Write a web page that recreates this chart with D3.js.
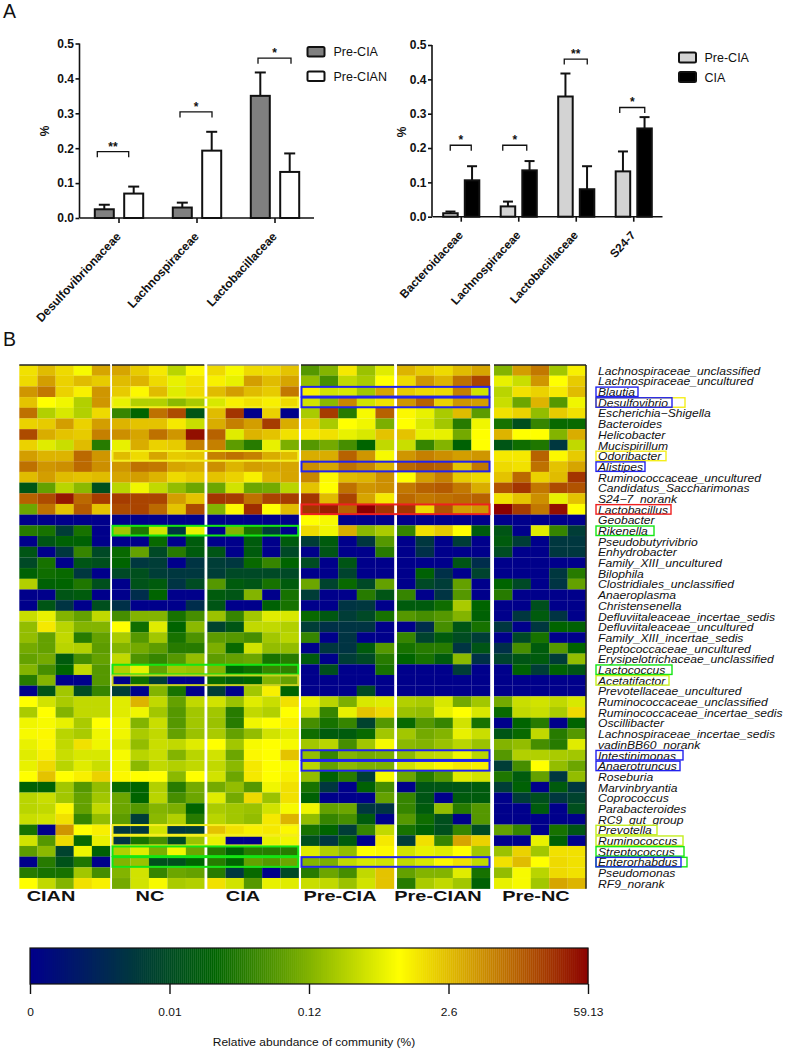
<!DOCTYPE html>
<html><head><meta charset="utf-8">
<style>html,body{margin:0;padding:0;background:#fff}svg{display:block}text{font-family:"Liberation Sans",Arial,sans-serif;fill:#111}</style>
<script src="https://cdn.jsdelivr.net/npm/d3@7"></script></head><body>
<svg id="c" width="787" height="1050"></svg>
<script>
// ---------- Panel A data ----------
const leftFamilies = ["Desulfovibrionaceae","Lachnospiraceae","Lactobacillaceae"];
const leftPreCIA = [0.025,0.03,0.35];
const leftPreCIAErr = [0.038,0.044,0.417];
const leftPreCIAN = [0.07,0.193,0.132];
const leftPreCIANErr = [0.09,0.247,0.185];
const leftSig = ["**","*","*"];
const leftSigLevel = [0.19,0.304,0.458];

const rightFamilies = ["Bacteroidaceae","Lachnospiraceae","Lactobacillaceae","S24-7"];
const rightPreCIA = [0.01,0.03,0.35,0.132];
const rightPreCIAErr = [0.015,0.044,0.417,0.19];
const rightCIA = [0.106,0.135,0.08,0.257];
const rightCIAErr = [0.147,0.162,0.147,0.29];
const rightSig = ["*","*","**","*"];
const rightSigLevel = [0.208,0.208,0.459,0.318];
const yTicks = [0,0.1,0.2,0.3,0.4,0.5];

// ---------- Panel B data ----------
const taxa = ["Lachnospiraceae_unclassified","Lachnospiraceae_uncultured","Blautia","Desulfovibrio","Escherichia−Shigella","Bacteroides","Helicobacter","Mucispirillum","Odoribacter","Alistipes","Ruminococcaceae_uncultured","Candidatus_Saccharimonas","S24−7_norank","Lactobacillus","Geobacter","Rikenella","Pseudobutyrivibrio","Enhydrobacter","Family_XIII_uncultured","Bilophila","Clostridiales_unclassified","Anaeroplasma","Christensenella","Defluviitaleaceae_incertae_sedis","Defluviitaleaceae_uncultured","Family_XIII_incertae_sedis","Peptococcaceae_uncultured","Erysipelotrichaceae_unclassified","Lactococcus","Acetatifactor","Prevotellaceae_uncultured","Ruminococcaceae_unclassified","Ruminococcaceae_incertae_sedis","Oscillibacter","Lachnospiraceae_incertae_sedis","vadinBB60_norank","Intestinimonas","Anaerotruncus","Roseburia","Marvinbryantia","Coprococcus","Parabacteroides","RC9_gut_group","Prevotella","Ruminococcus","Streptococcus","Enterorhabdus","Pseudomonas","RF9_norank"];
const groupNames = ["CIAN","NC","CIA","Pre-CIA","Pre-CIAN","Pre-NC"];
// colour-bar position (0-100) of every cell, rows follow taxa
const cian = [[70,75,71,65,78],[71,79,72,75,73],[80,84,72,68,80],[74,66,64,56,80],[85,56,61,56,71],[72,73,79,72,79],[90,77,74,73,83],[72,62,59,75,38],[79,76,76,86,80],[85,80,81,86,81],[75,79,75,74,75],[28,46,57,51,26],[87,90,97,86,92],[47,85,74,88,74],[0,0,0,0,0],[38,36,20,36,0],[0,28,32,32,0],[28,0,18,40,24],[24,36,0,28,26],[32,35,34,18,0],[56,32,33,37,26],[0,0,28,30,0],[0,28,17,0,26],[59,63,50,46,58],[52,69,57,50,50],[52,46,58,38,46],[48,46,57,56,45],[46,48,30,42,46],[50,42,33,58,44],[38,50,0,0,44],[0,28,54,25,40],[66,60,55,58,58],[55,66,50,58,58],[64,65,63,55,66],[65,67,57,55,64],[63,67,58,70,64],[62,68,59,61,61],[63,71,57,62,59],[66,74,66,68,72],[32,32,54,44,52],[57,59,54,46,54],[57,58,67,46,58],[59,60,70,40,52],[36,0,80,66,68],[60,44,71,34,63],[45,51,22,64,32],[0,38,27,37,0],[38,36,36,54,42],[66,58,50,70,68]];
const nc = [[78,73,69,57,67],[75,76,71,63,70],[73,67,75,62,71],[63,56,56,51,55],[40,33,85,90,28],[76,74,74,69,59],[81,78,85,80,98],[63,77,72,73,83],[75,71,78,73,74],[80,85,84,78,77],[78,79,76,71,73],[57,64,58,52,47],[92,91,91,79,74],[90,91,86,74,90],[0,0,0,0,0],[54,37,60,18,63],[0,0,34,0,30],[34,46,24,38,30],[33,18,20,0,17],[24,26,20,18,18],[0,27,30,17,25],[0,15,33,0,0],[16,0,0,0,15],[42,50,50,36,42],[66,35,62,33,51],[55,44,54,36,43],[50,48,45,38,38],[58,43,40,44,52],[56,63,46,54,53],[0,35,20,0,0],[20,0,50,36,0],[62,76,58,46,58],[62,64,54,44,54],[64,50,59,44,54],[64,55,58,46,53],[62,52,59,58,62],[65,57,59,50,57],[64,51,58,56,58],[67,66,66,51,66],[34,33,56,38,48],[47,33,57,42,47],[47,44,50,49,33],[45,20,51,56,38],[18,18,60,18,20],[17,36,42,25,53],[56,62,49,64,47],[50,53,26,26,33],[50,60,40,47,46],[48,60,65,55,56]];
const cia = [[71,65,71,71,74],[68,63,79,75,78],[75,79,75,73,84],[61,68,70,68,71],[75,93,0,72,0],[77,83,79,92,77],[87,62,76,74,70],[83,45,38,63,49],[83,85,83,77,75],[81,76,79,78,78],[74,72,68,76,78],[47,60,47,48,57],[93,92,85,91,92],[50,67,94,66,75],[0,0,0,0,0],[0,50,36,20,0],[0,0,30,0,30],[28,0,30,0,24],[20,18,34,40,33],[20,24,24,24,24],[44,30,28,36,30],[30,28,50,0,36],[28,0,0,32,36],[53,40,54,62,61],[22,28,58,58,56],[45,44,42,54,57],[49,34,60,52,52],[45,46,47,36,38],[50,33,35,40,39],[34,30,33,50,46],[20,0,54,68,33],[60,53,62,59,70],[54,38,58,56,66],[53,38,64,66,68],[55,46,52,60,62],[66,54,65,66,65],[60,47,67,66,74],[58,51,69,66,65],[60,47,69,66,68],[48,52,44,64,70],[62,48,71,53,70],[55,54,53,60,65],[57,54,52,69,76],[74,70,68,69,67],[63,0,0,63,64],[38,32,38,38,38],[38,33,46,44,47],[38,18,34,0,24],[70,60,44,63,62]];
const preCia = [[44,50,69,53,62],[52,42,58,55,66],[68,60,61,54,78],[60,51,82,60,70],[55,92,38,65,87],[73,55,66,64,49],[69,70,63,61,74],[44,48,42,33,58],[77,77,87,80,65],[81,78,85,82,76],[82,67,75,76,81],[74,66,85,80,81],[93,75,91,78,69],[93,96,87,100,93],[66,65,0,0,0],[71,64,77,51,55],[20,30,0,18,44],[0,28,0,0,38],[25,0,28,0,0],[0,0,22,0,0],[47,22,34,24,46],[20,0,0,38,28],[0,0,17,18,0],[34,29,20,24,36],[20,16,17,17,0],[40,0,17,0,0],[0,18,17,30,44],[30,0,20,24,38],[0,26,0,0,36],[0,0,0,0,0],[0,0,0,25,0],[63,57,49,61,62],[59,40,63,74,71],[42,36,40,22,44],[35,30,30,34,54],[54,57,42,54,65],[52,40,50,48,49],[57,46,51,49,49],[52,32,38,20,65],[36,18,0,32,42],[32,0,0,0,46],[64,46,47,18,17],[52,40,42,30,0],[36,33,20,40,58],[26,18,30,0,69],[62,56,52,66,67],[50,49,58,61,60],[38,47,42,58,74],[59,58,53,60,74]];
const preCian = [[76,73,71,75,78],[71,80,76,85,91],[73,71,71,83,60],[80,87,72,80,79],[67,63,55,75,45],[66,61,54,38,64],[74,63,63,48,66],[59,40,50,32,66],[80,83,81,79,80],[86,88,87,74,84],[66,79,83,73,71],[84,87,88,84,77],[86,84,85,86,87],[93,71,89,79,80],[0,0,0,0,0],[40,70,73,66,30],[0,18,0,20,0],[0,16,0,0,0],[0,0,0,28,15],[0,32,16,0,22],[0,24,20,46,0],[40,0,17,44,0],[30,30,35,55,33],[44,42,44,50,32],[0,15,42,28,36],[40,22,30,25,20],[36,38,38,17,28],[33,36,30,51,16],[0,0,0,20,0],[0,0,0,0,0],[0,0,0,0,0],[56,55,61,48,54],[53,52,63,66,61],[34,44,40,60,36],[54,48,50,63,59],[51,50,53,57,53],[51,57,58,64,57],[60,63,67,69,68],[47,38,44,62,60],[0,28,28,28,30],[40,28,0,30,30],[40,30,52,38,44],[44,35,26,0,44],[36,32,26,40,25],[20,70,40,78,72],[60,63,62,66,54],[58,61,67,70,58],[46,50,50,62,36],[38,55,58,54,32]];
const preNc = [[50,79,84,54,68],[63,59,80,66,73],[57,70,72,69,75],[59,47,76,44,64],[70,72,52,73,70],[36,26,40,34,34],[76,66,66,50,77],[28,35,37,18,58],[69,69,87,67,73],[71,70,85,74,78],[74,86,72,75,93],[89,93,84,90,89],[70,74,81,63,74],[100,92,84,98,66],[0,0,0,0,0],[28,0,62,40,20],[30,20,0,18,18],[25,0,0,18,18],[0,0,0,0,0],[0,0,0,18,38],[33,24,0,17,46],[38,0,0,0,0],[0,0,26,0,0],[0,18,30,17,0],[18,0,18,33,32],[0,24,36,0,0],[16,42,30,44,33],[22,28,30,20,52],[0,32,20,32,28],[0,0,0,0,0],[0,0,0,0,0],[48,59,60,58,61],[34,58,59,55,71],[0,33,38,0,33],[28,34,58,38,44],[50,52,42,38,62],[44,56,56,55,54],[20,42,66,52,47],[37,30,46,18,52],[20,32,0,30,18],[0,20,26,18,22],[0,0,30,0,26],[0,0,0,0,0],[46,40,0,36,28],[0,0,63,32,0],[53,72,54,70,70],[70,75,66,71,70],[52,65,57,71,70],[63,65,54,78,76]];
const groupValues = [cian,nc,cia,preCia,preCian,preNc];
const legendPositions = [0,25,50,75,100];
const legendLabels = ["0","0.01","0.12","2.6","59.13"];

// ---------- Layout ----------
const svg = d3.select("#c");
const BLUE="#2222ee",YEL="#f4ee1c",RED="#ee2020",GRN="#14e614",LIME="#c4ee20";
const groupExtent = [[19.3,110],[112,204.3],[207.3,298.7],[301,394],[397,490],[494,586]];
const groupLabelX = [51,150,243,340,438,536];
const heatBoxes = [["Blautia",3,4,BLUE],["Desulfovibrio",3,4,BLUE],["Desulfovibrio",1,2,YEL],["Odoribacter",1,2,YEL],["Alistipes",3,4,BLUE],["Lactobacillus",3,4,RED],["Rikenella",1,2,GRN],["Lactococcus",1,2,GRN],["Acetatifactor",1,2,"#c8d020"],["Intestinimonas",3,4,BLUE],["Anaerotruncus",3,4,BLUE],["Prevotella",1,2,YEL],["Ruminococcus",1,2,YEL],["Streptococcus",1,2,GRN],["Enterorhabdus",1,2,GRN],["Enterorhabdus",3,4,BLUE]];
const labelBoxes = [["Blautia",42,BLUE],["Desulfovibrio",89,YEL],["Desulfovibrio",76,BLUE],["Odoribacter",70,YEL],["Alistipes",49,BLUE],["Lactobacillus",75,RED],["Rikenella",58,GRN],["Lactococcus",76,GRN],["Acetatifactor",73,LIME],["Intestinimonas",87,BLUE],["Anaerotruncus",84,BLUE],["Prevotella",61,LIME],["Ruminococcus",87,LIME],["Streptococcus",88,GRN],["Enterorhabdus",91,GRN],["Enterorhabdus",85,BLUE]];

// ---------- Panel letters ----------
svg.append("text").attr("x",3).attr("y",18).attr("font-size",19.5).text("A");
svg.append("text").attr("x",3).attr("y",346).attr("font-size",19.5).text("B");

// ---------- Bar panels ----------
function barPanel(o){
  const g = svg.append("g");
  const y = d3.scaleLinear().domain([0,0.5]).range([o.y0,o.y5]);
  const x = d3.scaleBand().domain(o.cats).range(o.xr);
  const yA = g.append("g").attr("transform",`translate(${o.xr[0]-0.5},0)`).call(d3.axisLeft(y).tickValues(yTicks).tickFormat(d3.format(".1f")).tickSize(4).tickPadding(1.5));
  const xA = g.append("g").attr("transform",`translate(0,${o.y0})`).call(d3.axisBottom(x).tickSize(5).tickFormat(""));
  [yA,xA].forEach(a=>{a.selectAll("path,line").attr("stroke","#111").attr("stroke-width",1.6);a.select("path").attr("d",a===yA?`M0,${o.y5}V${o.y0}`:`M${o.xr[0]},0H${o.xr[1]}`)});
  yA.selectAll("text").attr("font-size",12).attr("font-weight","bold").attr("font-family","Liberation Sans");
  o.series.forEach((s,si)=>{
    const off = (si===0?-1:1)*o.off;
    o.cats.forEach((c,i)=>{
      const cx = x(c)+x.bandwidth()/2+off;
      const top=y(s.v[i]), et=y(s.e[i]);
      g.append("line").attr("x1",cx).attr("x2",cx).attr("y1",top).attr("y2",et).attr("stroke","#111").attr("stroke-width",2);
      g.append("line").attr("x1",cx-o.cap).attr("x2",cx+o.cap).attr("y1",et).attr("y2",et).attr("stroke","#111").attr("stroke-width",2);
      g.append("rect").attr("x",cx-o.bw/2).attr("y",top).attr("width",o.bw).attr("height",o.y0-top).attr("fill",s.fill).attr("stroke","#111").attr("stroke-width",2);
    });
  });
  o.cats.forEach((c,i)=>{
    const cx=x(c)+x.bandwidth()/2, yy=y(o.sigLevel[i]), a=cx+o.brk[i][0], b=cx+o.brk[i][1];
    g.append("path").attr("fill","none").attr("stroke","#111").attr("stroke-width",1.3).attr("d",`M${a},${yy+5.5}V${yy}H${b}V${yy+5.5}`);
    g.append("text").attr("x",(a+b)/2).attr("y",yy-1).attr("text-anchor","middle").attr("font-size",12).attr("font-weight","bold").text(o.sig[i]);
    g.append("text").attr("transform",`translate(${cx+2.5},${o.y0+19}) rotate(-47)`).attr("text-anchor","end").attr("font-size",o.labelSize).attr("font-weight","bold").text(c);
  });
  g.append("text").attr("transform",`translate(${o.pctX},${o.pctY}) rotate(-90)`).attr("text-anchor","middle").attr("font-size",12).attr("font-weight","bold").text("%");
  o.series.forEach((s,i)=>{
    g.append("rect").attr("x",o.lx).attr("y",o.ly[i]).attr("width",o.lw).attr("height",o.lh).attr("rx",1.5).attr("fill",s.fill).attr("stroke","#111").attr("stroke-width",2);
    g.append("text").attr("x",o.lx+o.lw+o.lgap).attr("y",o.ly[i]+o.lh/2+4.5).attr("font-size",12.5).text(s.name);
  });
}
barPanel({cats:leftFamilies,xr:[80,314],y0:218,y5:43.5,off:14.7,bw:19,cap:5.5,sig:leftSig,sigLevel:leftSigLevel,
  brk:[[-21.7,9.7],[-17,15],[-17,16]],labelSize:12,pctX:49,pctY:131,lx:307.5,ly:[47,71.5],lw:17,lh:9.5,lgap:9,
  series:[{name:"Pre-CIA",v:leftPreCIA,e:leftPreCIAErr,fill:"#808080"},{name:"Pre-CIAN",v:leftPreCIAN,e:leftPreCIANErr,fill:"#fff"}]});
barPanel({cats:rightFamilies,xr:[432.5,662.5],y0:216.7,y5:45,off:10.8,bw:14.5,cap:5,sig:rightSig,sigLevel:rightSigLevel,
  brk:[[-11,10],[-16,8],[-12,11],[-14,11]],labelSize:11.7,pctX:406,pctY:132,lx:679,ly:[52.5,72],lw:17,lh:10,lgap:8.5,
  series:[{name:"Pre-CIA",v:rightPreCIA,e:rightPreCIAErr,fill:"#d3d3d3"},{name:"CIA",v:rightCIA,e:rightCIAErr,fill:"#000"}]});

// ---------- Heat map ----------
const heatColor = d3.scaleLinear().domain([0,33,66,100]).range(["#00008b","#006400","#ffff00","#8b0000"]);
const yHeat = d3.scaleBand().domain(taxa).range([365,888.7]);
const xHeat = groupExtent.map(e=>d3.scaleBand().domain(d3.range(5)).range(e));
const heat = svg.append("g");
groupValues.forEach((m,gi)=>{
  m.forEach((row,ri)=>{
    heat.selectAll(null).data(row).join("rect")
      .attr("x",(d,i)=>xHeat[gi](i)).attr("y",yHeat(taxa[ri]))
      .attr("width",xHeat[gi].bandwidth()+0.2).attr("height",yHeat.bandwidth()+0.2)
      .attr("fill",d=>heatColor(d)).attr("stroke","#fff").attr("stroke-opacity",0.06).attr("stroke-width",0.6);
  });
  heat.append("line").attr("x1",groupExtent[gi][0]).attr("x2",groupExtent[gi][1]).attr("y1",365).attr("y2",365)
    .attr("stroke",gi===2?"#888":"#222").attr("stroke-width",1.4);
  svg.append("text").attr("transform",`translate(${groupLabelX[gi]},901) scale(1.33,1)`).attr("text-anchor","middle").attr("font-size",15).attr("font-weight","bold").text(groupNames[gi]);
});
heat.append("line").attr("x1",586).attr("x2",586).attr("y1",365).attr("y2",888.7).attr("stroke","#222").attr("stroke-width",1.5);
heat.selectAll("rect.box").data(heatBoxes).join("rect").attr("class","box")
  .attr("x",d=>groupExtent[d[1]][0]+0.5).attr("y",d=>yHeat(d[0])+0.5)
  .attr("width",d=>groupExtent[d[2]][1]-groupExtent[d[1]][0]-1).attr("height",yHeat.bandwidth()-1)
  .attr("fill","none").attr("stroke",d=>d[3]).attr("stroke-width",2);

// ---------- Taxon labels ----------
const lab = svg.append("g");
lab.selectAll("text").data(taxa).join("text")
  .attr("transform",d=>`translate(598,${yHeat(d)+yHeat.bandwidth()/2+4.4}) scale(1.155,1)`)
  .attr("font-size",10.5).attr("font-style","italic").text(d=>d);
lab.selectAll("rect").data(labelBoxes).join("rect")
  .attr("x",596).attr("y",d=>yHeat(d[0])+0.7).attr("width",d=>d[1]).attr("height",yHeat.bandwidth()-1.2)
  .attr("fill","none").attr("stroke",d=>d[2]).attr("stroke-width",1.4);

// ---------- Colour bar ----------
const xBar = d3.scaleLinear().domain([0,100]).range([30,588]);
const barSteps = d3.range(0,100,100/280);
svg.append("g").selectAll("rect").data(barSteps).join("rect")
  .attr("x",d=>xBar(d)).attr("y",948).attr("width",xBar(100/280)-xBar(0)+0.35).attr("height",36).attr("fill",d=>heatColor(d));
svg.append("rect").attr("x",30).attr("y",948).attr("width",558).attr("height",36).attr("fill","none").attr("stroke","#111").attr("stroke-width",1.2);
const barAxis = svg.append("g").attr("transform","translate(0,984)")
  .call(d3.axisBottom(xBar).tickValues(legendPositions).tickFormat((d,i)=>legendLabels[i]).tickSize(10).tickPadding(15));
barAxis.select("path").remove();
barAxis.selectAll("line").attr("stroke","#111").attr("stroke-width",1.4);
barAxis.selectAll("text").attr("font-size",10).attr("font-family","Liberation Sans")
  .each(function(d){const t=d3.select(this);t.attr("transform",`translate(${t.attr("x")||0},0) scale(1.2,1)`)});
svg.append("text").attr("transform","translate(314,1046) scale(1.2,1)").attr("text-anchor","middle").attr("font-size",10).text("Relative abundance of community (%)");
</script></body></html>
